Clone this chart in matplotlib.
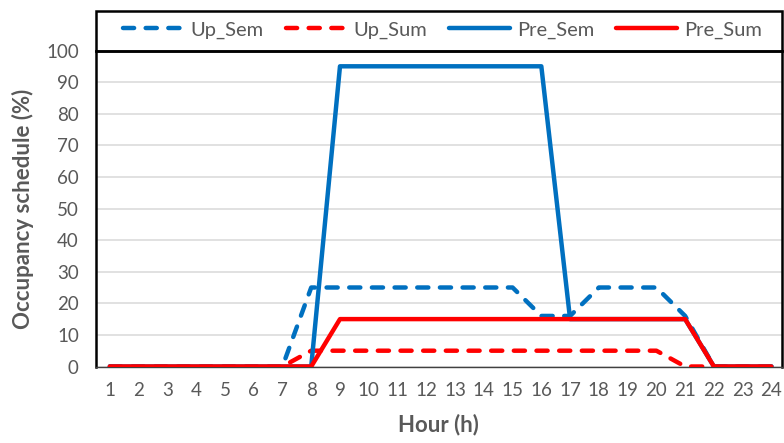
import matplotlib
matplotlib.use("Agg")
import matplotlib.pyplot as plt
from matplotlib.patches import Rectangle

plt.rcParams['font.family'] = ['Lato', 'DejaVu Sans']

# Hourly occupancy schedules (%)
hours = list(range(1, 25))
up_sem = [0, 0, 0, 0, 0, 0, 0, 25, 25, 25, 25, 25, 25, 25, 25, 16, 16, 25, 25, 25, 16, 0, 0, 0]
up_sum = [0, 0, 0, 0, 0, 0, 0, 5, 5, 5, 5, 5, 5, 5, 5, 5, 5, 5, 5, 5, 0, 0, 0, 0]
pre_sem = [0, 0, 0, 0, 0, 0, 0, 0, 95, 95, 95, 95, 95, 95, 95, 95, 15, 15, 15, 15, 15, 0, 0, 0]
pre_sum = [0, 0, 0, 0, 0, 0, 0, 0, 15, 15, 15, 15, 15, 15, 15, 15, 15, 15, 15, 15, 15, 0, 0, 0]
y_ticks = list(range(0, 101, 10))

BLUE = "#0070C0"
RED = "#FF0000"
GREY_TXT = "#595959"

W, H = 784, 443
fig = plt.figure(figsize=(W / 100, H / 100), dpi=100)

left_px, right_px = 95.5, 781.5
top_px, bottom_px = 50.5, 366.5
ax = fig.add_axes([left_px / W, (H - bottom_px) / H,
                   (right_px - left_px) / W, (bottom_px - top_px) / H])

lw = 3.2
dash = (2.5, 2.6)
common = dict(linewidth=lw, solid_capstyle='round', solid_joinstyle='round',
              dash_capstyle='round', dash_joinstyle='round')

ax.plot(hours, up_sem, color=BLUE, dashes=dash, label="Up_Sem", zorder=3, **common)
ax.plot(hours, up_sum, color=RED, dashes=dash, label="Up_Sum", zorder=4, **common)
ax.plot(hours, pre_sem, color=BLUE, label="Pre_Sem", zorder=5, **common)
ax.plot(hours, pre_sum, color=RED, label="Pre_Sum", zorder=6, **common)

ax.set_xlim(0.5, 24.35)
ax.set_ylim(0, 100)
ax.set_xticks(hours)
ax.set_xticklabels([str(h) for h in hours])
ax.set_yticks(y_ticks)
ax.set_yticklabels([str(v) for v in y_ticks])

ax.grid(axis='y', color="#D9D9D9", linewidth=1.1, zorder=0)
ax.set_axisbelow(True)
ax.tick_params(axis='both', length=0, labelsize=13.5, colors=GREY_TXT)
ax.tick_params(axis='y', pad=12)
ax.tick_params(axis='x', pad=11)

for side in ("left", "right", "top"):
    ax.spines[side].set_color("black")
    ax.spines[side].set_linewidth(1.8)
ax.spines["bottom"].set_color("#404040")
ax.spines["bottom"].set_linewidth(1.0)

ax.set_xlabel("Hour (h)", fontsize=16, fontweight='bold', color=GREY_TXT, labelpad=11)
ax.set_ylabel("Occupancy schedule (%)", fontsize=16, fontweight='bold', color=GREY_TXT, labelpad=9)

# Box holding the legend above the plotting area
box_top = (H - 10.5) / H
ax_top = (H - top_px) / H
fig.add_artist(Rectangle((left_px / W, ax_top), (right_px - left_px) / W, box_top - ax_top,
                         transform=fig.transFigure, fill=False, edgecolor="black",
                         linewidth=1.8, zorder=10))

handles, labels = ax.get_legend_handles_labels()
leg = fig.legend(handles, labels, ncol=4, loc='center',
                 bbox_to_anchor=(442.5 / W, (H - 30) / H), frameon=False,
                 fontsize=14.5, handlelength=3.0, handletextpad=0.35, columnspacing=1.1,
                 labelcolor=GREY_TXT)

fig.savefig("out.png", dpi=100)
